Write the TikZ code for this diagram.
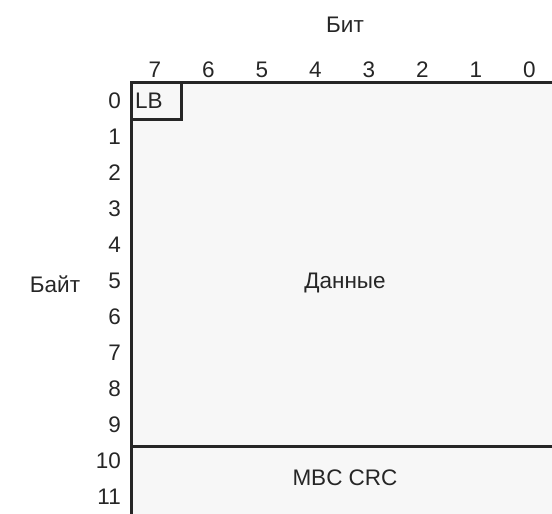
\documentclass[tikz,border=0pt]{standalone}
\usepackage{fontspec}
\setmainfont{Liberation Sans}
\begin{document}
\begin{tikzpicture}[x=1pt,y=-1pt,
  lbl/.style={font=\fontsize{22.5}{26}\selectfont, text=black!85, inner sep=0pt},
  frame/.style={line width=3pt, draw=black!85}]
\useasboundingbox (0,0) rectangle (552,514);
% fill
\fill[black!3] (131,82) rectangle (552,514);
% header
\node[lbl] (bit) at (345,25) {Бит};
\foreach \i [count=\k from 0] in {7,6,5,4,3,2,1,0}
  \node[lbl] (c\i) at ({155+53.5*\k},70) {\i};
% row labels
\foreach \r in {0,...,11}
  \node[lbl, anchor=east] (r\r) at (121,{101+36*\r}) {\r};
\node[lbl] (byte) at (55,284) {Байт};
% frame
\draw[frame] (552,82) -- (131,82) -- (131,514);
\draw[frame] (131,446) -- (552,446);
\draw[frame] (131,82) rectangle (181,119);
\node[lbl, anchor=west] (lb) at (135,101) {LB};
\node[lbl] (data) at (345,283) {Данные};
\node[lbl] (crc) at (345,478) {MBC CRC};
\end{tikzpicture}
\end{document}
